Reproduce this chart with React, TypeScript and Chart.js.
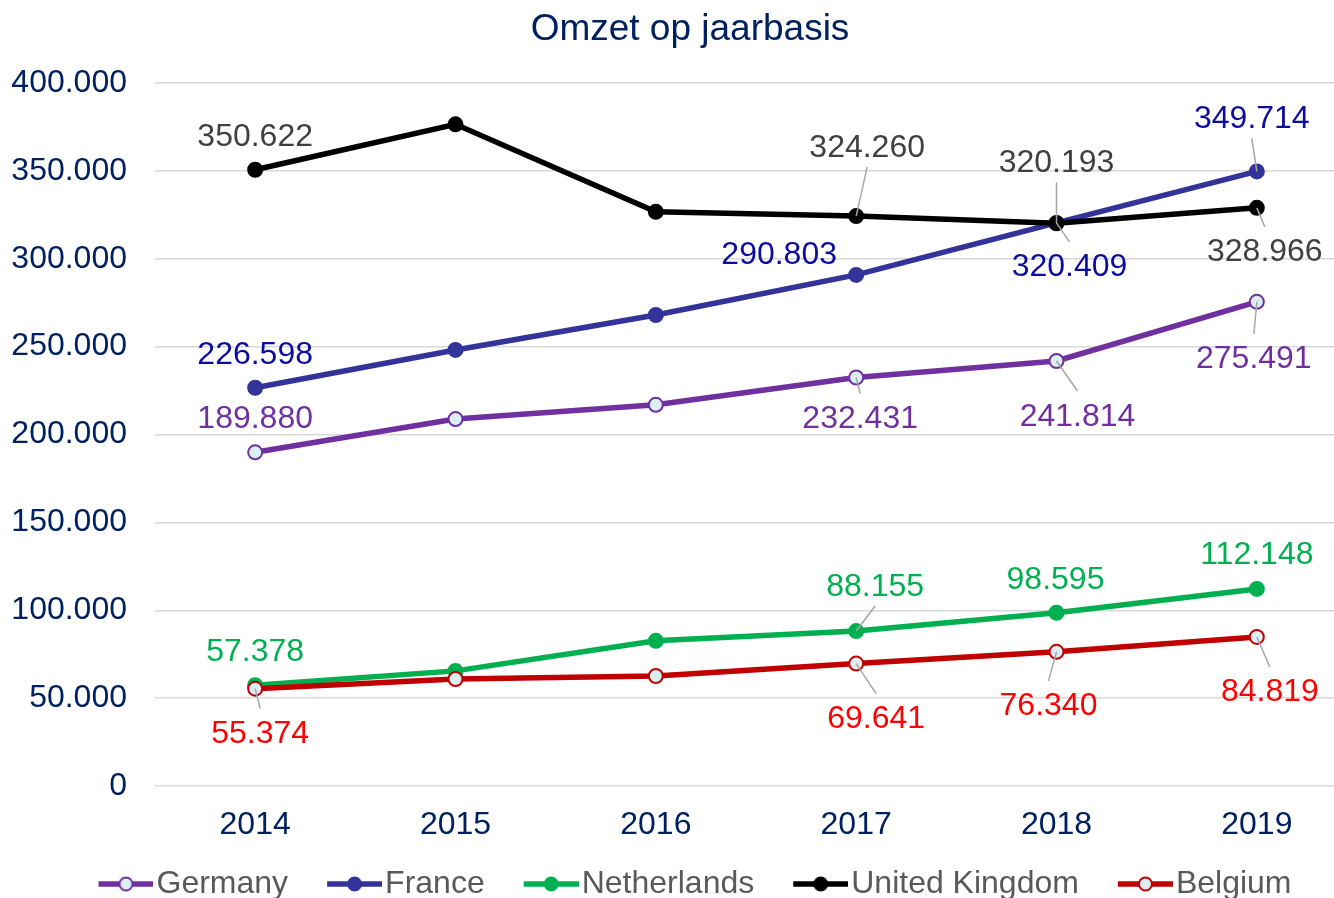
import React, { useEffect, useRef } from 'react';
import { Chart, registerables } from 'chart.js';

Chart.register(...registerables);

// ---- data ----
const chartTitle = 'Omzet op jaarbasis';
const years = ['2014', '2015', '2016', '2017', '2018', '2019'];
const yTickValues = [0, 50000, 100000, 150000, 200000, 250000, 300000, 350000, 400000];

const germany = [189880, 208800, 216900, 232431, 241814, 275491];
const france = [226598, 248100, 268000, 290803, 320409, 349714];
const netherlands = [57378, 65500, 82600, 88155, 98595, 112148];
const unitedKingdom = [350622, 376500, 326700, 324260, 320193, 328966];
const belgium = [55374, 60900, 62600, 69641, 76340, 84819];

const seriesNames = ['Germany', 'France', 'Netherlands', 'United Kingdom', 'Belgium'];
const seriesValues = [germany, france, netherlands, unitedKingdom, belgium];

// ---- styles ----
const lineColors = ['#7030A0', '#333399', '#00B050', '#000000', '#C00000'];
const labelColors = ['#7030A0', '#0C0CA0', '#00B050', '#404040', '#FF0000'];
const hollowMarkers = [true, false, false, false, true];
const MARKER_FILL = '#DAEEF3';
const NAVY = '#002060';
const FONT = "'Liberation Sans', Arial, Helvetica, sans-serif";

// label placement relative to point: [dx, dy, leaderLine]
const germanyLabelPos = [[0, -36, 0], null, null, [4, 39, 1], [21, 53, 1], [-3, 55, 1]];
const franceLabelPos = [[0, -35, 0], null, null, [-77, -22, 0], [13, 42, 1], [-5, -55, 1]];
const netherlandsLabelPos = [[0, -36, 0], null, null, [19, -47, 1], [-1, -35, 0], [0, -36, 0]];
const ukLabelPos = [[0, -35, 0], null, null, [11, -71, 1], [0, -63, 1], [8, 42, 1]];
const belgiumLabelPos = [[5, 43, 1], null, null, [20, 53, 1], [-8, 52, 1], [13, 53, 1]];
const labelPositions = [germanyLabelPos, franceLabelPos, netherlandsLabelPos, ukLabelPos, belgiumLabelPos];

const fmt = (v: number) => String(Math.round(v)).replace(/\B(?=(\d{3})+(?!\d))/g, '.');

function makeLegendImage(color: string, hollow: boolean) {
  const c = document.createElement('canvas');
  c.width = 89;
  c.height = 18;
  const g = c.getContext('2d')!;
  g.strokeStyle = color;
  g.lineWidth = 5.5;
  g.beginPath();
  g.moveTo(34, 9);
  g.lineTo(89, 9);
  g.stroke();
  g.beginPath();
  g.arc(61.5, 9, 6.5, 0, Math.PI * 2);
  g.fillStyle = hollow ? MARKER_FILL : color;
  g.fill();
  g.lineWidth = 2;
  g.strokeStyle = color;
  g.stroke();
  return c;
}

const titlePlugin = {
  id: 'customTitle',
  afterDraw(chart: any) {
    const ctx = chart.ctx as CanvasRenderingContext2D;
    ctx.save();
    ctx.font = `37px ${FONT}`;
    ctx.fillStyle = NAVY;
    ctx.textAlign = 'center';
    ctx.textBaseline = 'alphabetic';
    ctx.fillText(chartTitle, 690, 39.5);
    ctx.restore();
  },
};

const labelPlugin = {
  id: 'pointValueLabels',
  afterDatasetsDraw(chart: any) {
    const ctx = chart.ctx as CanvasRenderingContext2D;
    ctx.save();
    // leader lines
    chart.data.datasets.forEach((_ds: any, di: number) => {
      const meta = chart.getDatasetMeta(di);
      const pos = labelPositions[di];
      meta.data.forEach((pt: any, i: number) => {
        const p = pos[i];
        if (!p || !p[2]) return;
        const lx = pt.x + p[0];
        const ly = pt.y + p[1];
        ctx.strokeStyle = '#A6A6A6';
        ctx.lineWidth = 1.5;
        ctx.beginPath();
        ctx.moveTo(pt.x, pt.y);
        ctx.lineTo(lx, ly + (p[1] < 0 ? 22 : -23));
        ctx.stroke();
      });
    });
    // texts (cap-height centred on the target position)
    ctx.font = `32px ${FONT}`;
    ctx.textAlign = 'center';
    ctx.textBaseline = 'alphabetic';
    chart.data.datasets.forEach((ds: any, di: number) => {
      const meta = chart.getDatasetMeta(di);
      const pos = labelPositions[di];
      meta.data.forEach((pt: any, i: number) => {
        const p = pos[i];
        if (!p) return;
        ctx.fillStyle = labelColors[di];
        ctx.fillText(fmt(ds.data[i]), pt.x + p[0], pt.y + p[1] + 11.5);
      });
    });
    ctx.restore();
  },
};

export default function App() {
  const ref = useRef<HTMLCanvasElement>(null);

  useEffect(() => {
    Chart.defaults.font.family = FONT;
    const legendImages = seriesNames.map((_, i) => makeLegendImage(lineColors[i], hollowMarkers[i]));

    const datasets = seriesNames.map((name, i) => ({
      label: name,
      data: seriesValues[i],
      borderColor: lineColors[i],
      backgroundColor: lineColors[i],
      borderWidth: 5.5,
      pointRadius: 7,
      pointBorderWidth: 2,
      pointBackgroundColor: hollowMarkers[i] ? MARKER_FILL : lineColors[i],
      pointBorderColor: lineColors[i],
      tension: 0,
      fill: false,
      order: seriesNames.length - i,
    }));

    const chart = new Chart(ref.current!, {
      type: 'line',
      data: { labels: years, datasets },
      plugins: [labelPlugin, titlePlugin],
      options: {
        animation: false,
        responsive: false,
        devicePixelRatio: 1,
        layout: { padding: { left: 12, right: 23, top: 83, bottom: 0 } },
        plugins: {
          tooltip: { enabled: false },
          title: { display: false },
          legend: {
            position: 'bottom',
            labels: {
              usePointStyle: true,
              pointStyleWidth: 63,
              padding: 18,
              color: '#595959',
              font: { size: 32, family: FONT },
              sort: (a: any, b: any) => a.datasetIndex - b.datasetIndex,
              generateLabels: (ch: any) => {
                const items = (Chart.defaults.plugins.legend.labels as any).generateLabels(ch);
                return items.map((it: any) => ({ ...it, pointStyle: legendImages[it.datasetIndex] }));
              },
            },
          },
        },
        scales: {
          x: {
            type: 'category',
            offset: true,
            grid: { display: false, drawTicks: false },
            border: { display: false },
            ticks: { color: NAVY, font: { size: 32, family: FONT }, padding: 20, maxRotation: 0 },
            afterFit: (s: any) => {
              s.height = 64;
            },
          },
          y: {
            min: 0,
            max: 400000,
            afterBuildTicks: (s: any) => {
              s.ticks = yTickValues.map((v) => ({ value: v }));
            },
            grid: { color: '#D9D9D9', lineWidth: 1.5, drawTicks: false },
            border: { display: false },
            ticks: {
              color: NAVY,
              font: { size: 32, family: FONT },
              padding: 28,
              callback: (v: any) => fmt(Number(v)),
            },
            afterFit: (s: any) => {
              s.width = 143;
            },
          },
        },
      } as any,
    });
    return () => chart.destroy();
  }, []);

  return (
    <div
      style={{
        position: 'absolute',
        left: 0,
        top: 0,
        width: 1334,
        height: 898,
        overflow: 'hidden',
        background: '#ffffff',
      }}
    >
      <canvas ref={ref} width={1380} height={910} style={{ display: 'block', width: 1380, height: 910 }} />
    </div>
  );
}
